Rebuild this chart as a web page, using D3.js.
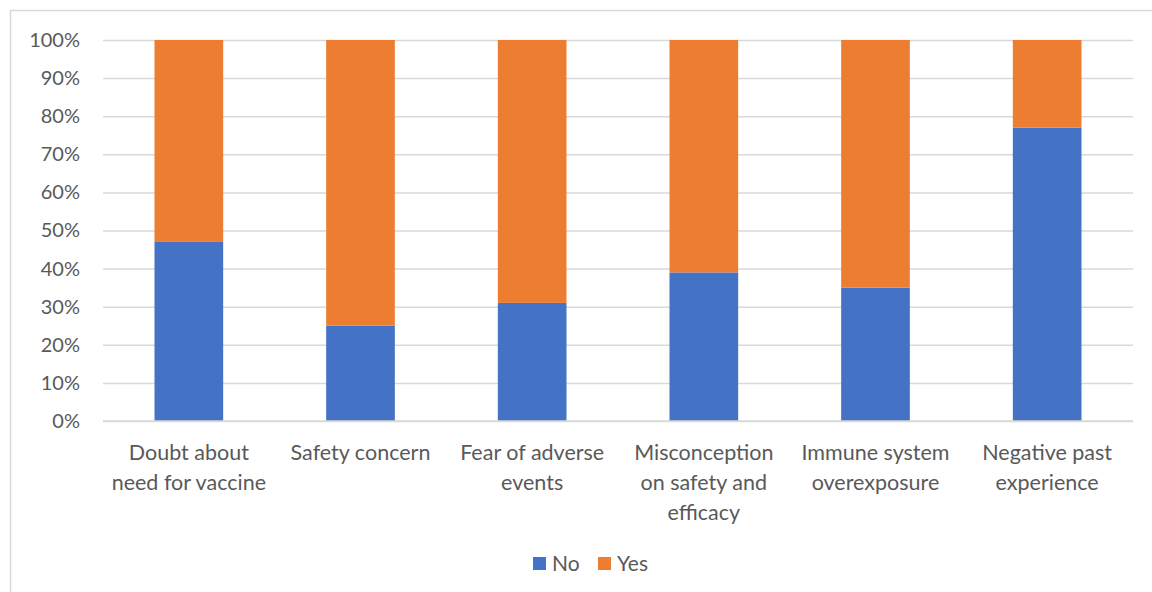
<!DOCTYPE html>
<html>
<head>
<meta charset="utf-8">
<script src="https://cdn.jsdelivr.net/npm/d3@7"></script>
<style>
  body { margin: 0; background: #fff; }
  svg text { font-family: Lato, Calibri, "Open Sans", sans-serif; fill: #595959; }
</style>
</head>
<body>
<svg id="chart" width="1152" height="592"></svg>
<script>
// categories and their wrapped tick labels
const categories = [
    "Doubt about need for vaccine",
    "Safety concern",
    "Fear of adverse events",
    "Misconception on safety and efficacy",
    "Immune system overexposure",
    "Negative past experience"
];
const tickLabels = [
    ["Doubt about", "need for vaccine"],
    ["Safety concern"],
    ["Fear of adverse", "events"],
    ["Misconception", "on safety and", "efficacy"],
    ["Immune system", "overexposure"],
    ["Negative past", "experience"]
];

// shares in percent
const noValues = [47, 25, 31, 39, 35, 77];
const yesValues = [53, 75, 69, 61, 65, 23];

const seriesNames = ["No", "Yes"];
const seriesColors = ["#4472C4", "#ED7D31"];
const yTicks = [0, 10, 20, 30, 40, 50, 60, 70, 80, 90, 100];

/**
 * Basic sizes
 */
const plotLeft = 103;
const plotRight = 1133;
const plotTop = 40;
const plotBottom = 421;

const svg = d3.select("#chart");

// outer chart border
svg.append("rect")
    .attr("x", 10.5)
    .attr("y", 10.5)
    .attr("width", 1160)
    .attr("height", 600)
    .attr("fill", "none")
    .attr("stroke", "#d9d9d9")
    .attr("stroke-width", 1.5);

const xScale = d3.scaleBand()
    .domain(categories)
    .range([plotLeft, plotRight])
    .paddingInner(0.6)
    .paddingOuter(0.3);

const yScale = d3.scaleLinear()
    .domain([0, 100])
    .range([plotBottom, plotTop]);

// gridlines + y labels
const yAxis = d3.axisLeft(yScale)
    .tickValues(yTicks)
    .tickSize(-(plotRight - plotLeft))
    .tickPadding(23)
    .tickFormat(d => d + "%");

const yAxisG = svg.append("g")
    .attr("transform", `translate(${plotLeft}, 0)`)
    .call(yAxis);
yAxisG.select(".domain").remove();
yAxisG.selectAll(".tick line")
    .attr("stroke", "#d9d9d9")
    .attr("stroke-width", 1.5);
yAxisG.selectAll(".tick text")
    .attr("font-size", 20)
    .style("font-family", "Lato, Calibri, sans-serif")
    .attr("fill", "#595959");

// stacked data
const rows = categories.map((c, i) => ({ category: c, No: noValues[i], Yes: yesValues[i] }));
const stacked = d3.stack().keys(seriesNames)(rows);

svg.append("g")
    .selectAll("g")
    .data(stacked)
    .join("g")
    .attr("fill", (d, i) => seriesColors[i])
    .selectAll("rect")
    .data(d => d)
    .join("rect")
    .attr("x", d => xScale(d.data.category))
    .attr("y", d => yScale(d[1]))
    .attr("width", xScale.bandwidth())
    .attr("height", d => yScale(d[0]) - yScale(d[1]));

// x axis line
svg.append("line")
    .attr("x1", plotLeft)
    .attr("x2", plotRight)
    .attr("y1", yScale(0))
    .attr("y2", yScale(0))
    .attr("stroke", "#d9d9d9")
    .attr("stroke-width", 1.5);

// category labels
const labelG = svg.append("g");
categories.forEach((c, i) => {
    const cx = xScale(c) + xScale.bandwidth() / 2;
    const t = labelG.append("text")
        .attr("text-anchor", "middle")
        .attr("font-size", 21.5);
    tickLabels[i].forEach((line, j) => {
        t.append("tspan")
            .attr("x", cx)
            .attr("y", 460 + j * 30)
            .text(line);
    });
});

// legend
const legendItems = [
    { name: seriesNames[0], color: seriesColors[0], x: 533 },
    { name: seriesNames[1], color: seriesColors[1], x: 598 }
];
const legend = svg.append("g");
legendItems.forEach(item => {
    legend.append("rect")
        .attr("x", item.x)
        .attr("y", 557)
        .attr("width", 13)
        .attr("height", 13)
        .attr("fill", item.color);
    legend.append("text")
        .attr("x", item.x + 19)
        .attr("y", 571)
        .attr("font-size", 21)
        .text(item.name);
});
</script>
</body>
</html>
